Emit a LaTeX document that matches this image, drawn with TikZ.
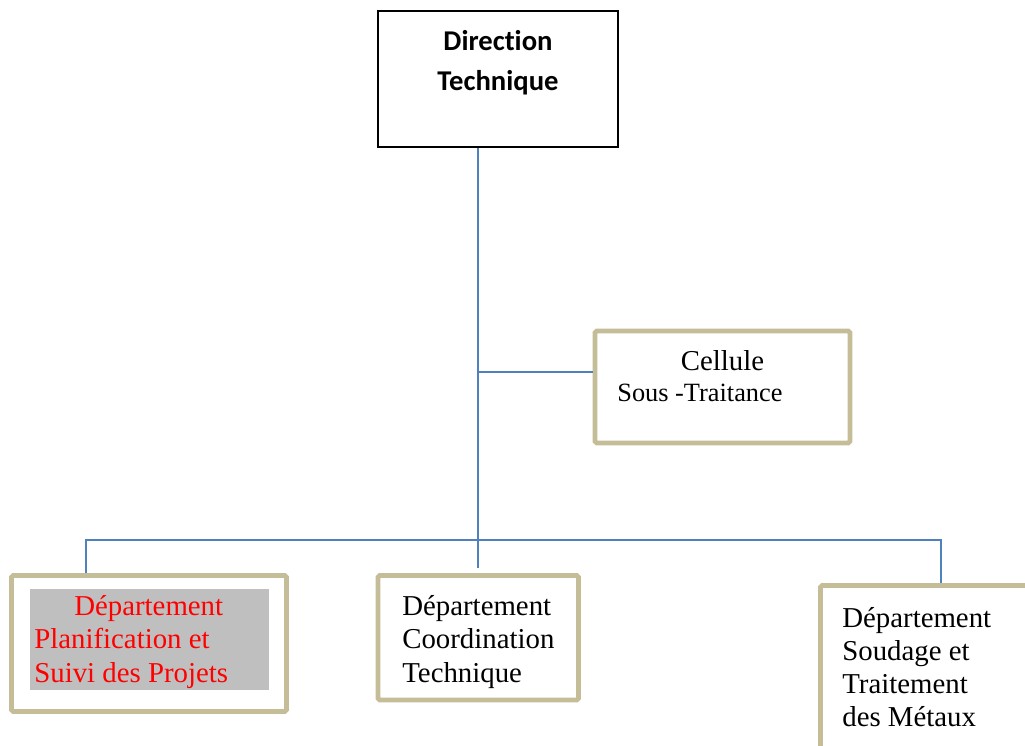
\documentclass[tikz,border=0pt]{standalone}
\usepackage{fontspec}
\setmainfont{Liberation Serif}
\newfontfamily\dirfont[Ligatures=NoCommon]{Carlito}
\definecolor{orgblue}{HTML}{4F81BD}
\definecolor{orgtan}{HTML}{C4BD97}
\definecolor{orggray}{HTML}{BFBFBF}
\tikzset{
    orgline/.style={draw=orgblue, line width=1.1pt},
    dirbox/.style={draw=black, line width=0.9pt, inner sep=0pt},
    deptbox/.style={draw=orgtan, line width=2.7pt, rounded corners=1pt, inner sep=0pt},
    depttext/.style={font=\fontsize{16.4}{18.9}\selectfont, align=left, inner sep=0pt, anchor=base west},
}
\begin{document}
\begin{tikzpicture}[x=0.02cm, y=-0.02cm]
    \useasboundingbox (0,0) rectangle (1025,745);
    \clip (0,0) rectangle (1025,745);
    % Top box
    \node[dirbox, minimum width=4.8cm, minimum height=2.72cm] (dir) at (498,79) {};
    \node[font=\dirfont\bfseries\fontsize{16.3}{22.7}\selectfont, align=center, anchor=base, inner sep=0pt] (dirtxt) at (498,90) {Direction\\Technique};
    % Cellule
    \node[deptbox, minimum width=5.1cm, minimum height=2.24cm] (cell) at (722.5,387) {};
    \node[font=\fontsize{16.4}{18.9}\selectfont, anchor=base, inner sep=0pt] (celltxt) at (722.5,370) {Cellule};
    \node[font=\fontsize{15}{18}\selectfont, anchor=base west, inner sep=0pt] (soustxt) at (617,401) {Sous -Traitance};
    % Departments
    \node[deptbox, minimum width=5.5cm, minimum height=2.72cm] (planif) at (149,643.5) {};
    \node[fill=orggray, minimum width=4.78cm, minimum height=2.02cm, inner sep=0pt] (plangray) at (149.5,639.5) {};
    \node[depttext, red] (planiftxt) at (34,682) {\hspace*{0.8cm}Département\\Planification et\\Suivi des Projets};
    \node[deptbox, minimum width=4.01cm, minimum height=2.49cm] (coord) at (478.25,637.75) {};
    \node[depttext] (coordtxt) at (402,682) {Département\\Coordination\\Technique};
    \node[deptbox, minimum width=4.6cm, minimum height=3.6cm] (soud) at (935.5,675.5) {};
    \node[depttext] (soudtxt) at (842,726.7) {Département\\Soudage et\\Traitement\\des Métaux};
    % Connectors
    \coordinate (celljoin) at (478,372);
    \coordinate (busL) at (86,540);
    \coordinate (busR) at (941,540);
    \draw[orgline] (dir.south -| coord.north) -- ([yshift=0.1cm]coord.north);
    \draw[orgline] (celljoin) -- (celljoin -| cell.west);
    \draw[orgline] (busL |- planif.north) -- (busL) -- (busR) -- (busR |- soud.north);
\end{tikzpicture}
\end{document}
